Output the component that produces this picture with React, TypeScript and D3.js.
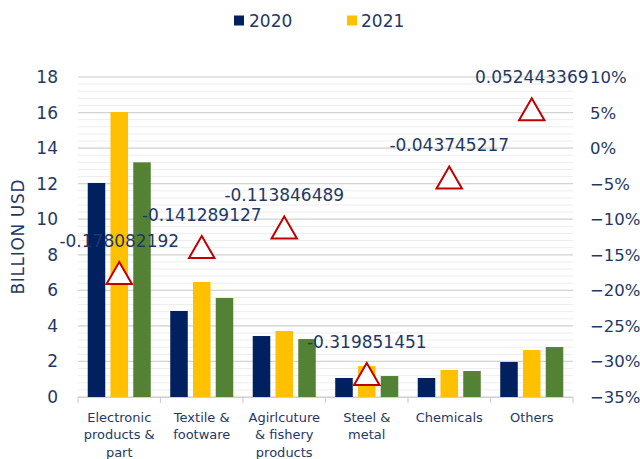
import React from "react";
import * as d3 from "d3";

const categories: string[][] = [
  ["Electronic", "products &", "part"],
  ["Textile &", "footware"],
  ["Agirlcuture", "& fishery", "products"],
  ["Steel &", "metal"],
  ["Chemicals"],
  ["Others"],
];
const series = ["2020", "2021", "s3"];
const values2020 = [12.04, 4.84, 3.43, 1.07, 1.07, 1.97];
const values2021 = [16.03, 6.47, 3.71, 1.74, 1.52, 2.64];
const values3 = [13.2, 5.57, 3.26, 1.18, 1.46, 2.81];
const growth = [-0.178082192, -0.141289127, -0.113846489, -0.319851451, -0.043745217, 0.052443369];
const leftTicks = [0, 2, 4, 6, 8, 10, 12, 14, 16, 18];
const rightTicks = [-0.35, -0.3, -0.25, -0.2, -0.15, -0.1, -0.05, 0, 0.05, 0.1];

const colors = ["#002060", "#FFC000", "#548235"];
const textColor = "#1F3864";
const font = "'DejaVu Sans', Verdana, sans-serif";

export default function App() {
  const W = 640, H = 459;
  const left = 78, right = 573, top = 77, bottom = 397;
  const idx = categories.map((_, i) => String(i));
  const x0 = d3.scaleBand<string>().domain(idx).range([left, right]).padding(0);
  const bw = x0.bandwidth();
  const x1 = d3.scaleBand<string>().domain(series).range([bw * 0.118, bw * 0.882]).paddingInner(0.23);
  const y = d3.scaleLinear().domain([0, 18]).range([bottom, top]);
  const y2 = d3.scaleLinear().domain([-0.35, 0.1]).range([bottom, top]);
  const data = [values2020, values2021, values3];
  const minor = d3.range(0, 18.001, 0.4);
  const tri = d3.symbol().type(d3.symbolTriangle).size(280);
  const fmt = d3.format(".0%");

  return (
    <svg width={W} height={H} style={{ position: "absolute", left: 0, top: 0, background: "#fff" }} fontFamily={font}>
      {minor.map((v, i) => (
        <line key={"m" + i} x1={left} x2={right} y1={y(v)} y2={y(v)} stroke="#EDEDED" strokeWidth={1} />
      ))}
      {leftTicks.map((v) => (
        <line key={"g" + v} x1={left} x2={right} y1={y(v)} y2={y(v)} stroke="#D4D4D4" strokeWidth={1.2} />
      ))}
      <line x1={left} x2={right} y1={bottom + 0.5} y2={bottom + 0.5} stroke="#D0D0D0" strokeWidth={1.2} />
      {d3.range(0, categories.length + 1).map((i) => (
        <line key={"t" + i} x1={left + i * bw} x2={left + i * bw} y1={bottom} y2={bottom + 6} stroke="#D0D0D0" strokeWidth={1.2} />
      ))}
      {data.map((vals, s) =>
        vals.map((v, i) => (
          <rect
            key={s + "-" + i}
            x={(x0(String(i)) as number) + (x1(series[s]) as number)}
            y={y(v)}
            width={x1.bandwidth()}
            height={bottom - y(v)}
            fill={colors[s]}
          />
        ))
      )}
      {growth.map((g, i) => (
        <path
          key={"tr" + i}
          d={tri() as string}
          transform={`translate(${(x0(String(i)) as number) + bw / 2},${y2(g) + 2})`}
          fill="#fff"
          stroke="#C00000"
          strokeWidth={2}
        />
      ))}
      {growth.map((g, i) => (
        <text
          key={"l" + i}
          x={(x0(String(i)) as number) + bw / 2}
          y={y2(g) - 28}
          textAnchor="middle"
          fontSize={17}
          fill={textColor}
        >
          {String(g)}
        </text>
      ))}
      {leftTicks.map((v) => (
        <text key={"yl" + v} x={58} y={y(v) + 6} textAnchor="end" fontSize={17} fill={textColor}>
          {v}
        </text>
      ))}
      {rightTicks.map((v) => (
        <text key={"yr" + v} x={590} y={y2(v) + 6} textAnchor="start" fontSize={16.5} fill={textColor}>
          {fmt(v)}
        </text>
      ))}
      <text
        transform={`translate(24,237) rotate(-90)`}
        textAnchor="middle"
        fontSize={17}
        fill={textColor}
        textLength={115}
        lengthAdjust="spacing"
      >
        BILLION USD
      </text>
      {categories.map((lines, i) => (
        <text key={"c" + i} textAnchor="middle" fontSize={13} fill={textColor}>
          {lines.map((ln, j) => (
            <tspan key={j} x={(x0(String(i)) as number) + bw / 2} y={421.5 + j * 17.5}>
              {ln}
            </tspan>
          ))}
        </text>
      ))}
      <rect x={234} y={15.5} width={10} height={10} fill={colors[0]} />
      <text x={249} y={26.5} fontSize={17} fill={textColor}>2020</text>
      <rect x={347} y={15.5} width={10} height={10} fill={colors[1]} />
      <text x={361} y={26.5} fontSize={17} fill={textColor}>2021</text>
    </svg>
  );
}
